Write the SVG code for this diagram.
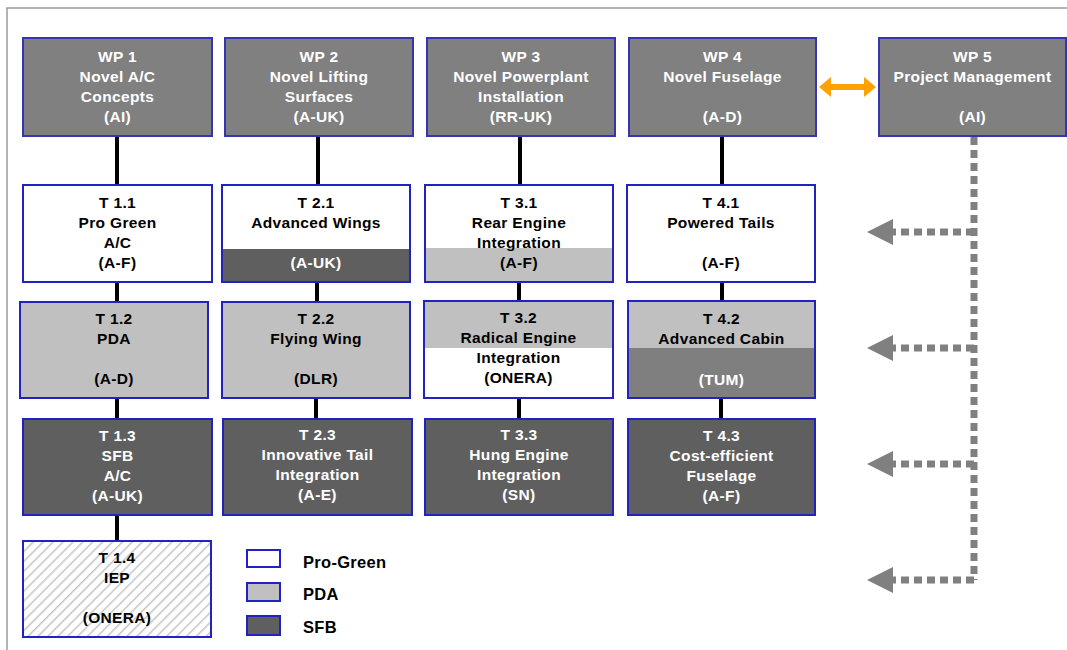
<svg xmlns="http://www.w3.org/2000/svg" width="1067" height="650" viewBox="0 0 1067 650">
  <defs>
    <style>
      .wp { fill: #808080; stroke: #3535b0; stroke-width: 2; }
      .tk { stroke: #2222c0; stroke-width: 2; fill: none; }
      .white { fill: #ffffff; }
      .light { fill: #c0c0c0; }
      .mid { fill: #7f7f7f; }
      .dark { fill: #5f5f5f; }
      text { font-family: "Liberation Sans", Arial, sans-serif; font-weight: bold; font-size: 15.5px; letter-spacing: 0.35px; text-anchor: middle; }
      .w { fill: #ffffff; }
      .b { fill: #000000; }
      .leg { text-anchor: start; font-size: 16.5px; letter-spacing: 0.3px; fill: #000000; }
      .link { stroke: #000000; stroke-width: 4; fill: none; }
      .dots { stroke: #808080; stroke-width: 7; fill: none; stroke-dasharray: 8 5; }
    </style>
    <pattern id="hatch" patternUnits="userSpaceOnUse" width="7" height="7" patternTransform="rotate(45)">
      <rect width="7" height="7" fill="#ffffff"/>
      <line x1="0" y1="0" x2="0" y2="7" stroke="#c4c4c4" stroke-width="3"/>
    </pattern>
  </defs>

  <!-- page frame -->
  <path d="M7,650 L7,8 L1067,8" fill="none" stroke="#9a9a9a" stroke-width="1.5"/>

  <!-- connectors -->
  <g id="connectors">
    <line class="link" x1="117" y1="136" x2="117" y2="185"/>
    <line class="link" x1="117" y1="282" x2="117" y2="302"/>
    <line class="link" x1="117" y1="398" x2="117" y2="419"/>
    <line class="link" x1="117" y1="515" x2="117" y2="541"/>
    <line class="link" x1="318" y1="136" x2="318" y2="185"/>
    <line class="link" x1="317" y1="282" x2="317" y2="302"/>
    <line class="link" x1="316" y1="398" x2="316" y2="419"/>
    <line class="link" x1="520" y1="136" x2="520" y2="185"/>
    <line class="link" x1="519" y1="282" x2="519" y2="302"/>
    <line class="link" x1="519" y1="398" x2="519" y2="419"/>
    <line class="link" x1="722" y1="136" x2="722" y2="185"/>
    <line class="link" x1="722" y1="282" x2="722" y2="302"/>
    <line class="link" x1="721" y1="398" x2="721" y2="419"/>
    <!-- WP4 / WP5 exchange (double-headed) -->
    <polygon points="819,87 831,77 831,84 864,84 864,77 876,87 864,97 864,90 831,90 831,97" fill="#ffa100"/>
    <!-- project management feeds -->
    <path class="dots" d="M974,137 L974,580"/>
    <path class="dots" d="M974,232 L892,232"/>
    <path class="dots" d="M974,348 L892,348"/>
    <path class="dots" d="M974,464 L892,464"/>
    <path class="dots" d="M974,580 L892,580"/>
    <polygon points="867,232 893,219 893,245" fill="#808080"/>
    <polygon points="867,348 893,335 893,361" fill="#808080"/>
    <polygon points="867,464 893,451 893,477" fill="#808080"/>
    <polygon points="867,580 893,567 893,593" fill="#808080"/>
  </g>

  <!-- work packages -->
  <g id="wp1">
    <rect class="wp" x="23" y="38" width="189" height="98"/>
    <text class="w" x="117.5" y="62">WP 1</text>
    <text class="w" x="117.5" y="82">Novel A/C</text>
    <text class="w" x="117.5" y="102">Concepts</text>
    <text class="w" x="117.5" y="122">(AI)</text>
  </g>
  <g id="wp2">
    <rect class="wp" x="225" y="38" width="188" height="98"/>
    <text class="w" x="319" y="62">WP 2</text>
    <text class="w" x="319" y="82">Novel Lifting</text>
    <text class="w" x="319" y="102">Surfaces</text>
    <text class="w" x="319" y="122">(A-UK)</text>
  </g>
  <g id="wp3">
    <rect class="wp" x="427" y="38" width="188" height="98"/>
    <text class="w" x="521" y="62">WP 3</text>
    <text class="w" x="521" y="82">Novel Powerplant</text>
    <text class="w" x="521" y="102">Installation</text>
    <text class="w" x="521" y="122">(RR-UK)</text>
  </g>
  <g id="wp4">
    <rect class="wp" x="629" y="38" width="187" height="98"/>
    <text class="w" x="722.5" y="62">WP 4</text>
    <text class="w" x="722.5" y="82">Novel Fuselage</text>
    <text class="w" x="722.5" y="122">(A-D)</text>
  </g>
  <g id="wp5">
    <rect class="wp" x="879" y="38" width="187" height="98"/>
    <text class="w" x="972.5" y="62">WP 5</text>
    <text class="w" x="972.5" y="82">Project Management</text>
    <text class="w" x="972.5" y="122">(AI)</text>
  </g>

  <!-- tasks, row 1 -->
  <g id="t11">
    <rect class="white" x="23" y="185" width="189" height="97"/>
    <rect class="tk" x="23" y="185" width="189" height="97"/>
    <text class="b" x="117.5" y="208">T 1.1</text>
    <text class="b" x="117.5" y="228">Pro Green</text>
    <text class="b" x="117.5" y="248">A/C</text>
    <text class="b" x="117.5" y="268">(A-F)</text>
  </g>
  <g id="t21">
    <rect class="white" x="222" y="185" width="188" height="97"/>
    <rect class="dark" x="222" y="249" width="188" height="33"/>
    <rect class="tk" x="222" y="185" width="188" height="97"/>
    <text class="b" x="316" y="208">T 2.1</text>
    <text class="b" x="316" y="228">Advanced Wings</text>
    <text class="w" x="316" y="268">(A-UK)</text>
  </g>
  <g id="t31">
    <rect class="white" x="425" y="185" width="188" height="97"/>
    <rect class="light" x="425" y="248" width="188" height="34"/>
    <rect class="tk" x="425" y="185" width="188" height="97"/>
    <text class="b" x="519" y="208">T 3.1</text>
    <text class="b" x="519" y="228">Rear Engine</text>
    <text class="b" x="519" y="248">Integration</text>
    <text class="b" x="519" y="268">(A-F)</text>
  </g>
  <g id="t41">
    <rect class="white" x="627" y="185" width="188" height="97"/>
    <rect class="tk" x="627" y="185" width="188" height="97"/>
    <text class="b" x="721" y="208">T 4.1</text>
    <text class="b" x="721" y="228">Powered Tails</text>
    <text class="b" x="721" y="268">(A-F)</text>
  </g>

  <!-- tasks, row 2 -->
  <g id="t12">
    <rect class="light" x="20" y="302" width="188" height="96"/>
    <rect class="tk" x="20" y="302" width="188" height="96"/>
    <text class="b" x="114" y="324">T 1.2</text>
    <text class="b" x="114" y="344">PDA</text>
    <text class="b" x="114" y="384">(A-D)</text>
  </g>
  <g id="t22">
    <rect class="light" x="222" y="302" width="188" height="96"/>
    <rect class="tk" x="222" y="302" width="188" height="96"/>
    <text class="b" x="316" y="324">T 2.2</text>
    <text class="b" x="316" y="344">Flying Wing</text>
    <text class="b" x="316" y="384">(DLR)</text>
  </g>
  <g id="t32">
    <rect class="white" x="424" y="301" width="189" height="97"/>
    <rect class="light" x="424" y="301" width="189" height="47"/>
    <rect class="tk" x="424" y="301" width="189" height="97"/>
    <text class="b" x="518.5" y="323">T 3.2</text>
    <text class="b" x="518.5" y="343">Radical Engine</text>
    <text class="b" x="518.5" y="363">Integration</text>
    <text class="b" x="518.5" y="383">(ONERA)</text>
  </g>
  <g id="t42">
    <rect class="mid" x="628" y="301" width="187" height="97"/>
    <rect class="light" x="628" y="301" width="187" height="47"/>
    <rect class="tk" x="628" y="301" width="187" height="97"/>
    <text class="b" x="721.5" y="324">T 4.2</text>
    <text class="b" x="721.5" y="344">Advanced Cabin</text>
    <text class="w" x="721.5" y="385">(TUM)</text>
  </g>

  <!-- tasks, row 3 -->
  <g id="t13">
    <rect class="dark" x="23" y="419" width="189" height="96"/>
    <rect class="tk" x="23" y="419" width="189" height="96"/>
    <text class="w" x="117.5" y="441">T 1.3</text>
    <text class="w" x="117.5" y="461">SFB</text>
    <text class="w" x="117.5" y="481">A/C</text>
    <text class="w" x="117.5" y="501">(A-UK)</text>
  </g>
  <g id="t23">
    <rect class="dark" x="223" y="419" width="189" height="96"/>
    <rect class="tk" x="223" y="419" width="189" height="96"/>
    <text class="w" x="317.5" y="440">T 2.3</text>
    <text class="w" x="317.5" y="460">Innovative Tail</text>
    <text class="w" x="317.5" y="480">Integration</text>
    <text class="w" x="317.5" y="500">(A-E)</text>
  </g>
  <g id="t33">
    <rect class="dark" x="425" y="419" width="188" height="96"/>
    <rect class="tk" x="425" y="419" width="188" height="96"/>
    <text class="w" x="519" y="440">T 3.3</text>
    <text class="w" x="519" y="460">Hung Engine</text>
    <text class="w" x="519" y="480">Integration</text>
    <text class="w" x="519" y="500">(SN)</text>
  </g>
  <g id="t43">
    <rect class="dark" x="628" y="419" width="187" height="96"/>
    <rect class="tk" x="628" y="419" width="187" height="96"/>
    <text class="w" x="721.5" y="441">T 4.3</text>
    <text class="w" x="721.5" y="461">Cost-efficient</text>
    <text class="w" x="721.5" y="481">Fuselage</text>
    <text class="w" x="721.5" y="501">(A-F)</text>
  </g>

  <!-- task, row 4 -->
  <g id="t14">
    <rect x="23" y="541" width="188" height="96" fill="url(#hatch)"/>
    <rect class="tk" x="23" y="541" width="188" height="96"/>
    <text class="b" x="117" y="563">T 1.4</text>
    <text class="b" x="117" y="583">IEP</text>
    <text class="b" x="117" y="623">(ONERA)</text>
  </g>

  <!-- legend -->
  <g id="legend">
    <rect class="white" x="247" y="550" width="33" height="17"/>
    <rect class="tk" x="247" y="550" width="33" height="17"/>
    <text class="leg" x="303" y="568">Pro-Green</text>
    <rect class="light" x="247" y="583" width="33" height="18"/>
    <rect class="tk" x="247" y="583" width="33" height="18"/>
    <text class="leg" x="303" y="600">PDA</text>
    <rect class="dark" x="247" y="616" width="33" height="19"/>
    <rect class="tk" x="247" y="616" width="33" height="19"/>
    <text class="leg" x="303" y="633">SFB</text>
  </g>
</svg>
